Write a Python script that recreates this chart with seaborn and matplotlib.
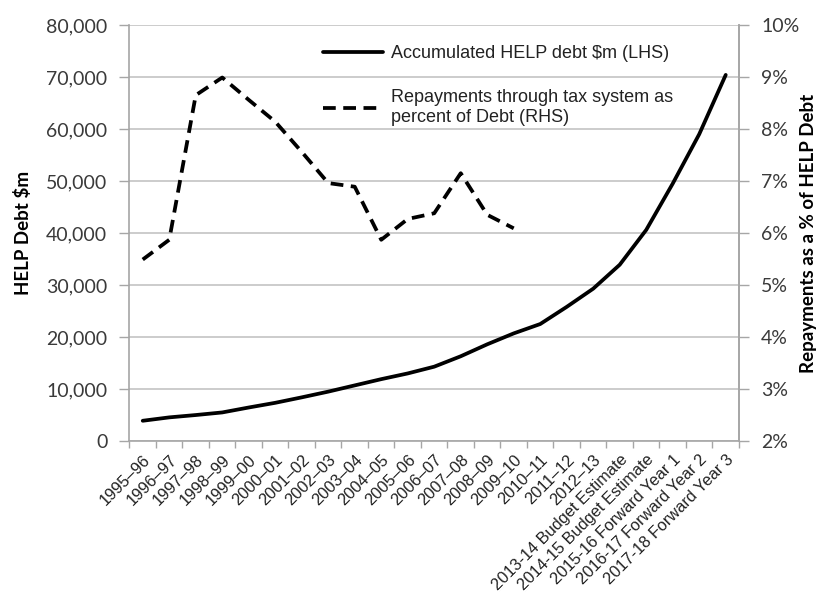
import matplotlib
matplotlib.use("Agg")
import matplotlib.pyplot as plt
from matplotlib.ticker import FuncFormatter, FixedLocator
import seaborn as sns
import pandas as pd
import numpy as np

# ---- data -------------------------------------------------------------
years = [
    "1995–96", "1996–97", "1997–98", "1998–99", "1999–00", "2000–01",
    "2001–02", "2002–03", "2003–04", "2004–05", "2005–06", "2006–07",
    "2007–08", "2008–09", "2009–10", "2010–11", "2011–12", "2012–13",
    "2013-14 Budget Estimate", "2014-15 Budget Estimate",
    "2015-16 Forward Year 1", "2016-17 Forward Year 2",
    "2017-18 Forward Year 3",
]

help_debt = [
    3900, 4550, 5000, 5500, 6450, 7350, 8400, 9500, 10700, 11900, 13000,
    14300, 16300, 18600, 20700, 22500, 25800, 29300, 33900, 40600, 49500,
    59000, 70400,
]

# repayments as % of debt, available through 2009–10
repay_pct = [
    5.49, 5.87, 8.65, 8.99, 8.56, 8.14, 7.56, 6.96, 6.89, 5.87, 6.27,
    6.38, 7.15, 6.35, 6.09,
]

label_debt = "Accumulated HELP debt $m (LHS)"
label_repay = "Repayments through tax system as\npercent of Debt (RHS)"

# ---- frames -----------------------------------------------------------
df_debt = pd.DataFrame({"x": np.arange(len(years)), "value": help_debt})
df_repay = pd.DataFrame({"x": np.arange(len(repay_pct)), "value": repay_pct})

sns.set_theme(style="white")
plt.rcParams["font.family"] = ["Liberation Sans", "DejaVu Sans"]

fig = plt.figure(figsize=(8.16, 5.92), dpi=100)
ax = fig.add_axes([0.1587, 0.255, 0.7469, 0.7028])
ax2 = ax.twinx()

grid_c = "#c4c4c4"
spine_c = "#a6a6a6"
text_c = "#3a3a3a"

sns.lineplot(data=df_debt, x="x", y="value", ax=ax, color="black",
             linewidth=2.7, label=label_debt, legend=False,
             solid_capstyle="round", zorder=3)
sns.lineplot(data=df_repay, x="x", y="value", ax=ax2, color="black",
             linewidth=2.7, linestyle=(0, (3.4, 2.0)), label=label_repay,
             legend=False, zorder=3)

# ---- axes -------------------------------------------------------------
ax.set_xlim(-0.5, len(years) - 0.5)
ax.set_ylim(0, 80000)
ax2.set_ylim(2, 10)
ax.set_yticks(np.arange(0, 80001, 10000))
ax2.set_yticks(np.arange(2, 10.01, 1))
ax.yaxis.set_major_formatter(FuncFormatter(lambda v, p: f"{int(v):,}"))
ax2.yaxis.set_major_formatter(FuncFormatter(lambda v, p: f"{int(round(v))}%"))

ax.set_xticks(np.arange(len(years)))
ax.set_xticklabels(years, rotation=45, ha="right", rotation_mode="anchor",
                   fontsize=11.8, color="#222222")
ax.xaxis.set_minor_locator(FixedLocator(np.arange(-0.5, len(years), 1.0)))
ax.tick_params(axis="x", which="major", length=0, pad=8)
ax.tick_params(axis="x", which="minor", length=5, width=1, color=spine_c,
               direction="out", bottom=True)

tick_font = {"family": ["Lato", "DejaVu Sans"], "size": 14}
for lab in ax.get_yticklabels():
    lab.set_fontproperties(tick_font)
    lab.set_color(text_c)
for lab in ax2.get_yticklabels():
    lab.set_fontproperties(tick_font)
    lab.set_color(text_c)
ax.tick_params(axis="y", length=7, width=1, color=spine_c, direction="out",
               left=True, pad=9)
ax2.tick_params(axis="y", length=7, width=1, color=spine_c, direction="out",
                right=True, pad=9)

ax.grid(axis="y", color=grid_c, linewidth=1.2, zorder=0)
ax.set_axisbelow(True)

for a in (ax, ax2):
    a.spines["top"].set_visible(False)
    for s in ("left", "right", "bottom"):
        a.spines[s].set_color(spine_c)
        a.spines[s].set_linewidth(1.2)
ax2.spines["left"].set_visible(False)
ax2.spines["bottom"].set_visible(False)

ax.set_xlabel("")
ax.set_ylabel("HELP Debt $m", fontfamily=["Lato", "DejaVu Sans"],
              fontweight="bold", fontsize=13.5, color="black")
ax2.set_ylabel("Repayments as a % of HELP Debt",
               fontfamily=["Lato", "DejaVu Sans"], fontweight="bold",
               fontsize=13.5, color="black")
ax.yaxis.set_label_coords(-0.160, 0.5)
ax2.yaxis.set_label_coords(1.100, 0.5)

# ---- legend -----------------------------------------------------------
h1, l1 = ax.get_legend_handles_labels()
h2, l2 = ax2.get_legend_handles_labels()
leg = ax2.legend(h1 + h2, l1 + l2, loc="upper left",
                 bbox_to_anchor=(0.3, 0.978), frameon=False, fontsize=13,
                 handlelength=3.3, handletextpad=0.45, labelspacing=1.5,
                 borderaxespad=0.2)
for t in leg.get_texts():
    t.set_color("#222222")

fig.savefig("out.png", dpi=100, facecolor="white")
